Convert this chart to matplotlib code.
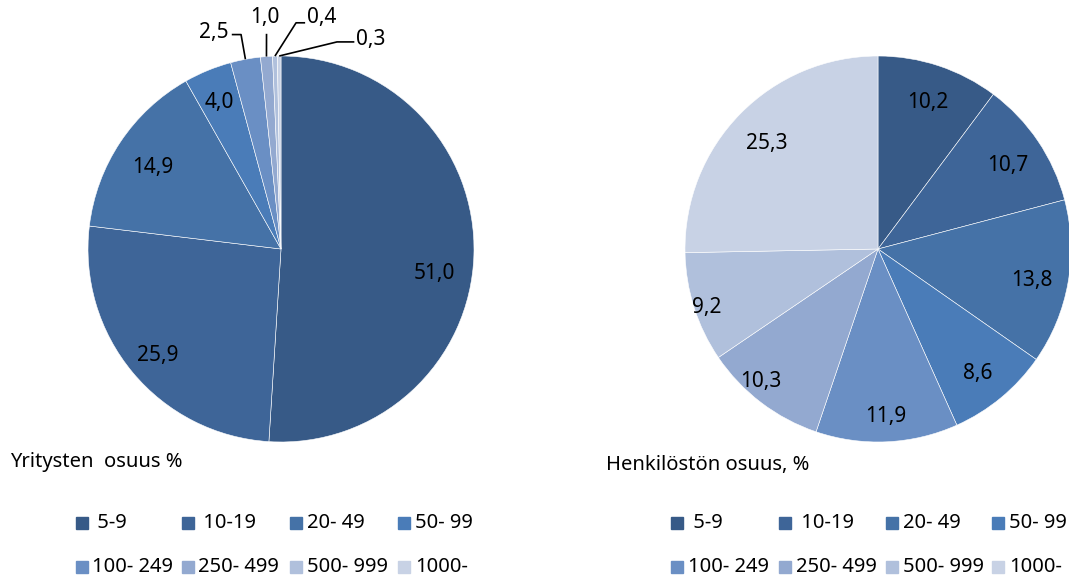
import numpy as np
import matplotlib
matplotlib.use('Agg')
import matplotlib.pyplot as plt
from matplotlib.lines import Line2D

plt.rcParams['font.family'] = ['Noto Sans', 'DejaVu Sans']

size_classes = [' 5-9', ' 10-19', '20- 49', '50- 99', '100- 249', '250- 499', '500- 999', '1000-']
firms_share = [51.0, 25.9, 14.9, 4.0, 2.5, 1.0, 0.4, 0.3]
staff_share = [10.2, 10.7, 13.8, 8.6, 11.9, 10.3, 9.2, 25.3]
colors = ['#375a87', '#3e6598', '#4572a7', '#4a7cb8', '#6a8fc4', '#93a9d0', '#b0c0dc', '#c8d2e5']

# label placement (radius fraction, angle nudge in degrees) for inside labels
firms_label_pos = [(0.80, -6.0), (0.83, 0), (0.80, 0), (0.84, 0)]
staff_label_pos = [(0.82, 0), (0.81, 0), (0.81, 0), (0.81, 0),
                   (0.85, 0), (0.90, -5.0), (0.93, 0), (0.81, 0)]

W, H = 1069, 579
R = 193  # pie radius in px
FS = 15
FS_TXT = 14.5


def fmt(v):
    return f'{v:.1f}'.replace('.', ',')


def make_axes(fig, cx, cy):
    ax = fig.add_axes([(cx - R) / W, (H - cy - R) / H, 2 * R / W, 2 * R / H])
    ax.set_xlim(-1, 1)
    ax.set_ylim(-1, 1)
    ax.set_aspect('equal')
    ax.axis('off')
    return ax


def draw_pie(ax, values, label_pos):
    wedges, _ = ax.pie(values, colors=colors, startangle=90, counterclock=False,
                       radius=1, wedgeprops={'edgecolor': 'white', 'linewidth': 0.4})
    ax.set_xlim(-1, 1)
    ax.set_ylim(-1, 1)
    for i, (dist, nudge) in enumerate(label_pos):
        w = wedges[i]
        mid = np.deg2rad((w.theta1 + w.theta2) / 2 + nudge)
        ax.text(dist * np.cos(mid), dist * np.sin(mid) - 0.02, fmt(values[i]),
                ha='center', va='center', fontsize=FS, color='black')
    return wedges


fig = plt.figure(figsize=(W / 100, H / 100), dpi=100)

# left pie
axl = make_axes(fig, 281, 249)
wl = draw_pie(axl, firms_share, firms_label_pos)

# leader-line labels for the small slices: text pos, alignment, elbow points
callouts = {
    4: ((-0.27, 1.12), 'right', [(-0.255, 1.111), (-0.207, 1.111)]),
    5: ((-0.083, 1.20), 'center', [(-0.075, 1.115)]),
    6: ((0.135, 1.20), 'left', [(0.125, 1.172), (0.078, 1.172)]),
    7: ((0.39, 1.083), 'left', [(0.38, 1.073), (0.29, 1.073)]),
}
for i, (pos, ha, elbow) in callouts.items():
    w = wl[i]
    mid = np.deg2rad((w.theta1 + w.theta2) / 2)
    end = (np.cos(mid), np.sin(mid))
    pts = elbow + [end]
    axl.plot([p[0] for p in pts], [p[1] for p in pts], color='black', lw=1.2,
             clip_on=False, solid_capstyle='butt')
    axl.text(pos[0], pos[1], fmt(firms_share[i]), ha=ha, va='center',
             fontsize=FS, color='black', clip_on=False)

# right pie
axr = make_axes(fig, 878, 249)
draw_pie(axr, staff_share, staff_label_pos)

# titles
fig.text(10 / W, 1 - 462 / H, 'Yritysten  osuus %', fontsize=FS_TXT, va='center', ha='left')
fig.text(606 / W, 1 - 465 / H, 'Henkilöstön osuus, %', fontsize=FS_TXT, va='center', ha='left')


def draw_legend(xs, rows_y):
    for i, (lab, c) in enumerate(zip(size_classes, colors)):
        col, row = i % 4, i // 4
        x = xs[col]
        y = rows_y[row]
        fig.add_artist(Line2D([x / W], [1 - y / H], marker='s', markersize=8,
                              color=c, linestyle='none', transform=fig.transFigure))
        fig.text((x + 11) / W, 1 - y / H, lab, fontsize=FS_TXT, va='center', ha='left')


draw_legend([81.5, 187.5, 296, 404], [523, 567])
draw_legend([677, 785, 892, 998], [523, 567])

fig.savefig('out.png', dpi=100)
